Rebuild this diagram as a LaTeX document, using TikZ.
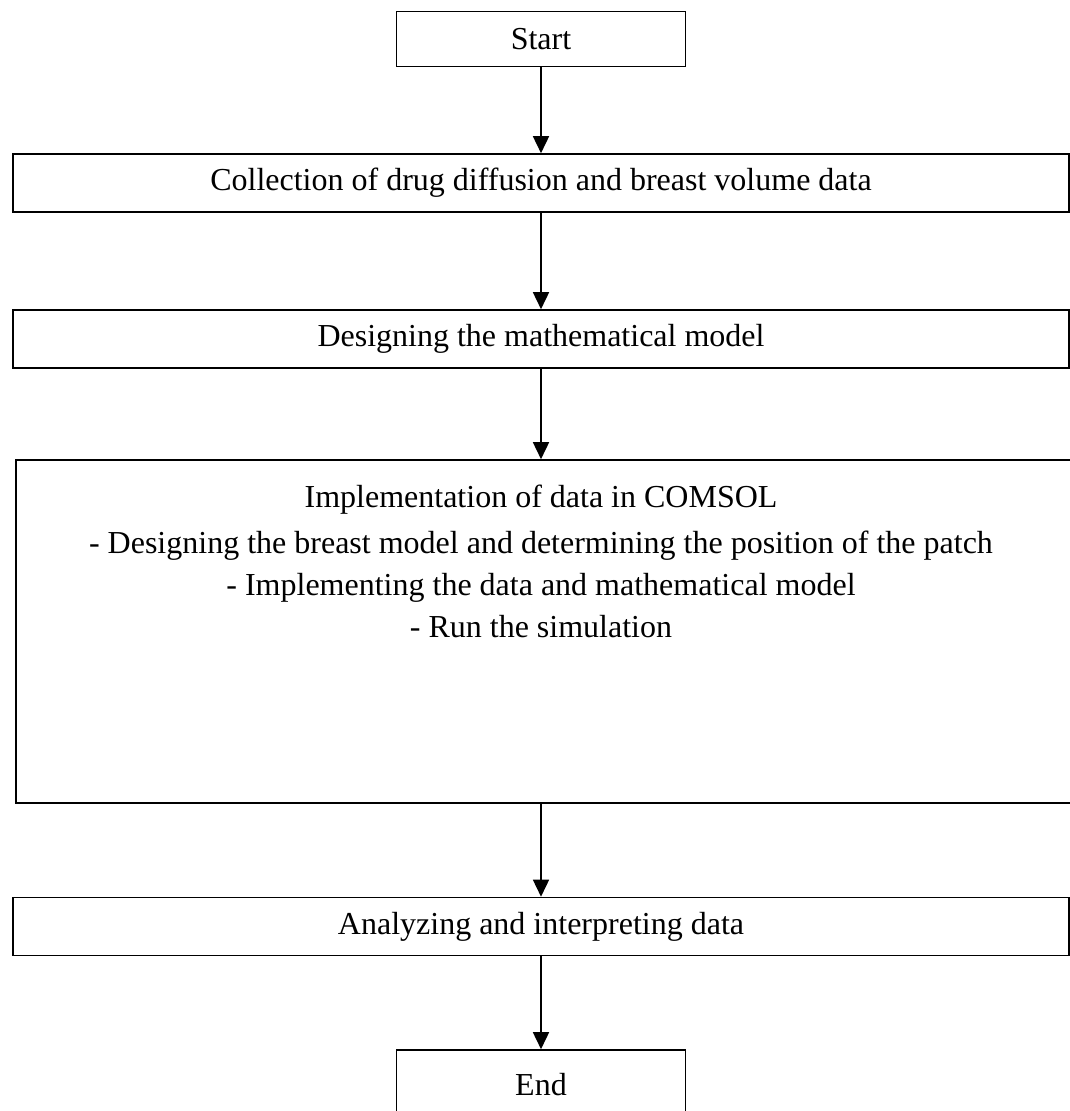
\documentclass[tikz,border=0pt]{standalone}
\usepackage{fontspec}
\setmainfont{Liberation Serif}
\usetikzlibrary{arrows.meta}
\begin{document}
\begin{tikzpicture}[x=1pt,y=-1pt,
    box/.style={draw, line width=1.6pt, inner sep=0pt,
      font=\fontsize{32}{42}\selectfont},
    smallbox/.style={box, minimum width=289pt, minimum height=55pt},
    widebox/.style={box, minimum width=1056pt, minimum height=58pt},
    flow/.style={line width=1.6pt, -{Triangle[length=17pt,width=16pt]}}]
  \useasboundingbox (0,0) rectangle (1070,1111);
  \clip (0,0) rectangle (1070,1111);

  \node[smallbox] (start) at (541,39) {Start};
  \node[widebox] (collect) at (541,183) {Collection of drug diffusion and breast volume data};
  \node[widebox] (model) at (541,339) {Designing the mathematical model};
  \node[box, minimum width=1074pt, minimum height=343pt] (impl) at (553,631.5) {};
  \node[inner sep=0pt, anchor=north, align=center,
    font=\fontsize{32}{42}\selectfont] (impltext) at (541,485)
    {Implementation of data in COMSOL\\[4pt]
     - Designing the breast model and determining the position of the patch\\
     - Implementing the data and mathematical model\\
     - Run the simulation};
  \node[widebox] (analyze) at (541,926.5) {Analyzing and interpreting data};
  \node[box, minimum width=289pt, minimum height=80pt, text depth=0pt] (finish) at (541,1090) {\raisebox{12pt}{End}};

  % connectors
  \draw[flow] (start) -- (collect);
  \draw[flow] (collect) -- (model);
  \draw[flow] (model) -- (model |- impl.north);
  \draw[flow] (model |- impl.south) -- (analyze);
  \draw[flow] (analyze) -- (finish);
\end{tikzpicture}
\end{document}
